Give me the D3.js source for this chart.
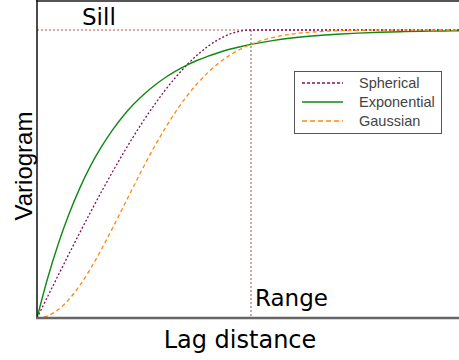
<!DOCTYPE html>
<html>
<head>
<meta charset="utf-8">
<script src="https://cdn.jsdelivr.net/npm/d3@7"></script>
<style>
  html, body { margin: 0; padding: 0; background: #fff; }
  svg { display: block; }
</style>
</head>
<body>
<svg id="chart" width="459" height="360"></svg>
<script>
// Lag distance in units of the range (range = 1)
const lags = [0, 0.05, 0.1, 0.15, 0.2, 0.25, 0.3, 0.35, 0.4, 0.45, 0.5,
  0.55, 0.6, 0.65, 0.7, 0.75, 0.8, 0.85, 0.9, 0.95, 1.0,
  1.1, 1.2, 1.3, 1.4, 1.5, 1.6, 1.7, 1.8, 1.9, 2.0];

// Semivariance as a fraction of the sill
const spherical = [0, 0.0749, 0.1495, 0.2233, 0.296, 0.3672, 0.4365, 0.5036, 0.568, 0.6294, 0.6875,
  0.7418, 0.792, 0.8377, 0.8785, 0.9141, 0.944, 0.9679, 0.9855, 0.9963, 1.0,
  1.0, 1.0, 1.0, 1.0, 1.0, 1.0, 1.0, 1.0, 1.0, 1.0];
const exponential = [0, 0.139, 0.259, 0.362, 0.451, 0.528, 0.593, 0.650, 0.699, 0.741, 0.777,
  0.808, 0.835, 0.858, 0.878, 0.895, 0.909, 0.922, 0.933, 0.942, 0.950,
  0.963, 0.973, 0.980, 0.985, 0.989, 0.992, 0.994, 0.9955, 0.9967, 0.9975];
const gaussian = [0, 0.0075, 0.0296, 0.0653, 0.1131, 0.171, 0.237, 0.3076, 0.381, 0.4553, 0.528,
  0.5965, 0.660, 0.7185, 0.770, 0.815, 0.853, 0.8855, 0.912, 0.9333, 0.950,
  0.9735, 0.9867, 0.9937, 0.9972, 0.9988, 0.9995, 0.9998, 0.9999, 1.0, 1.0];

const sill = 1;
const range = 1;
const seriesNames = ["Spherical", "Exponential", "Gaussian"];

const svg = d3.select("#chart");
const W = 459, H = 360;
const left = 37, bottom = 318, right = W;

const x = d3.scaleLinear().domain([0, 2]).range([left, 465]);
const y = d3.scaleLinear().domain([0, 1]).range([bottom, 30]);

svg.append("defs").append("clipPath").attr("id", "plot")
  .append("rect").attr("x", left).attr("y", 0).attr("width", right - left).attr("height", bottom);

const series = [
  { name: seriesNames[0], values: spherical, color: "#80105e", width: 1.3, dash: "2,2", legendDash: "3,2" },
  { name: seriesNames[1], values: exponential, color: "#118811", width: 1.4, dash: null, legendDash: null },
  { name: seriesNames[2], values: gaussian, color: "#ff8811", width: 1.3, dash: "4,3", legendDash: "5,3" }
];

const g = svg.append("g").attr("clip-path", "url(#plot)");

// Sill and range reference lines
g.append("line")
  .attr("x1", left).attr("x2", right)
  .attr("y1", y(sill)).attr("y2", y(sill))
  .attr("stroke", "#b03a3a").attr("stroke-width", 0.9).attr("stroke-dasharray", "2,2");
g.append("line")
  .attr("x1", x(range)).attr("x2", x(range))
  .attr("y1", y(sill)).attr("y2", bottom)
  .attr("stroke", "#9a3a3a").attr("stroke-width", 0.9).attr("stroke-dasharray", "2,2");

const line = d3.line()
  .x((d, i) => x(lags[i]))
  .y(d => y(d))
  .curve(d3.curveMonotoneX);

series.forEach(s => {
  g.append("path")
    .attr("d", line(s.values))
    .attr("fill", "none")
    .attr("stroke", s.color)
    .attr("stroke-width", s.width)
    .attr("stroke-dasharray", s.dash);
});

// Frame: top border, left and bottom axes
svg.append("line").attr("x1", left - 1).attr("x2", right).attr("y1", 1).attr("y2", 1)
  .attr("stroke", "#555").attr("stroke-width", 2);
svg.append("line").attr("x1", left).attr("x2", left).attr("y1", 0).attr("y2", bottom)
  .attr("stroke", "#111").attr("stroke-width", 1.5);
svg.append("line").attr("x1", left - 1).attr("x2", right).attr("y1", bottom).attr("y2", bottom)
  .attr("stroke", "#666").attr("stroke-width", 2.5);

// Annotations
svg.append("text").attr("x", 82).attr("y", 25)
  .attr("font-family", "DejaVu Sans").attr("font-size", 23).attr("fill", "#000").text("Sill");
svg.append("text").attr("x", 255).attr("y", 306)
  .attr("font-family", "DejaVu Sans").attr("font-size", 23).attr("fill", "#000").text("Range");

// Axis titles
svg.append("text").attr("x", 240).attr("y", 348).attr("text-anchor", "middle")
  .attr("font-family", "DejaVu Sans").attr("font-size", 24).attr("fill", "#000").text("Lag distance");
svg.append("text").attr("transform", "translate(32,166) rotate(-90)").attr("text-anchor", "middle")
  .attr("font-family", "Liberation Sans").attr("font-size", 24).attr("fill", "#000").text("Variogram");

// Legend
const legend = svg.append("g");
legend.append("rect").attr("x", 294.5).attr("y", 71.5).attr("width", 147).attr("height", 62)
  .attr("fill", "#fff").attr("stroke", "#555").attr("stroke-width", 1);
const rowY = d3.scalePoint().domain(seriesNames).range([83, 121]);
series.forEach(s => {
  const yy = rowY(s.name);
  legend.append("line").attr("x1", 302).attr("x2", 343).attr("y1", yy).attr("y2", yy)
    .attr("stroke", s.color).attr("stroke-width", 1.5).attr("stroke-dasharray", s.legendDash);
  legend.append("text").attr("x", 359).attr("y", yy + 5)
    .attr("font-family", "Liberation Sans").attr("font-size", 14.5).attr("fill", "#444").text(s.name);
});
</script>
</body>
</html>
